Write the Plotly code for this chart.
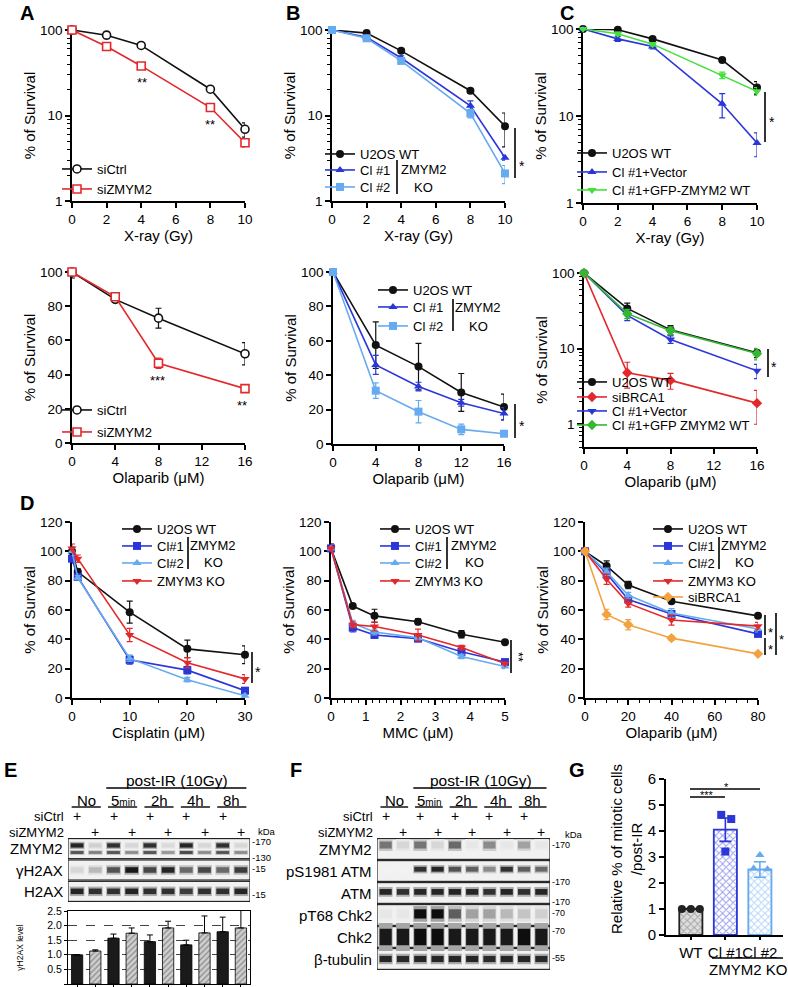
import math
import plotly.graph_objects as go

W, H = 788, 987
FONT = "Liberation Sans, Arial, Helvetica, sans-serif"
BLACK = "#111111"
RED = "#e3282c"
BLUE = "#2b36d9"
LBLUE = "#66aaf0"
GREEN = "#44e03c"
GREEN2 = "#34b834"
ORANGE = "#f2a340"

# ------------------------------------------------------------------ DATA
xray_dose = [0, 2, 4, 8, 10]
A_siCtrl = [100, 87, 66, 20.3, 6.9]
A_siCtrl_err = [0, 8, 3, 1.2, 1.3]
A_siZMYM2 = [100, 64, 38, 12.4, 4.8]
A_siZMYM2_err = [0, 3, 2, 1, 0.5]

B_WT = [100, 92, 57, 19.5, 7.5]
B_WT_err = [0, 4, 3, 1.2, 3.2]
B_Cl1 = [100, 82, 47, 13, 3.2]
B_Cl1_err = [0, 3, 3, 1.8, 0.2]
B_Cl2 = [100, 80, 43.5, 10.6, 2.1]
B_Cl2_err = [0, 3, 2, 1.2, 0.5]

C_WT = [100, 98, 77, 44, 21.3]
C_WT_err = [0, 3, 3, 2.5, 3.5]
C_Vec = [100, 77, 63, 13.8, 4.9]
C_Vec_err = [0, 5, 4, 4.3, 1.5]
C_GFP = [100, 88, 67, 29.4, 19.2]
C_GFP_err = [0, 4, 3, 2.5, 2]

ola_dose = [0, 4, 8, 16]
ola_dose5 = [0, 4, 8, 12, 16]
A2_siCtrl = [100, 84, 73, 52.2]
A2_siCtrl_err = [3.5, 1.5, 5.8, 6.5]
A2_siZMYM2 = [100, 85.5, 46.6, 31.8]
A2_siZMYM2_err = [1, 1.5, 3, 1.5]

B2_WT = [100, 57.5, 45, 30, 21.5]
B2_WT_err = [1, 13.5, 13.5, 11, 7.5]
B2_Cl1 = [100, 46, 33.4, 24, 17.7]
B2_Cl1_err = [1, 5.5, 2.5, 2, 3.5]
B2_Cl2 = [100, 31, 18.8, 8.5, 6]
B2_Cl2_err = [1, 4.5, 6.5, 3, 1]

C2_WT = [100, 34, 17.7, 8.8]
C2_WT_err = [5, 6, 2.5, 1.2]
C2_siBRCA1 = [100, 4.8, 3.8, 1.9]
C2_siBRCA1_err = [5, 1.8, 0.9, 0.9]
C2_Vec = [100, 27.5, 13.2, 5.1]
C2_Vec_err = [5, 4, 1.5, 1.1]
C2_GFP = [100, 29, 17.3, 8.6]
C2_GFP_err = [5, 4, 2, 1.5]

cis_dose = [0, 1, 10, 20, 30]
D1_WT = [100, 86, 58.5, 33.5, 29.5]
D1_WT_err = [3, 2, 7.5, 6, 6]
D1_Cl1 = [95, 82.5, 26, 19, 5]
D1_Cl1_err = [3, 1.5, 3, 2.5, 1.5]
D1_Cl2 = [100, 82, 27, 12.5, 1.5]
D1_Cl2_err = [3, 1.5, 2, 1.5, 1]
D1_ZMYM3 = [102, 95, 43, 24, 13]
D1_ZMYM3_err = [3, 2.5, 4.5, 3.5, 3]

mmc_dose = [0, 0.625, 1.25, 2.5, 3.75, 5]
D2_WT = [102, 62.7, 56, 52, 43.5, 38]
D2_WT_err = [3, 1, 4.5, 2, 2.5, 1]
D2_Cl1 = [102, 48, 43, 40.5, 31.5, 24.5]
D2_Cl1_err = [3, 3, 2, 2, 2, 1.5]
D2_Cl2 = [102, 51, 45, 41, 28.3, 21.5]
D2_Cl2_err = [3, 2, 2, 1.5, 1.5, 1.5]
D2_ZMYM3 = [102, 50, 48.7, 43, 34.4, 23.5]
D2_ZMYM3_err = [3, 2, 3, 4, 1.5, 1]

ola80_dose = [0, 10, 20, 40, 80]
D3_WT = [100, 90, 77, 66, 56]
D3_WT_err = [2, 3.5, 2.5, 1, 1]
D3_Cl1 = [100, 84.9, 67.2, 57.3, 43.7]
D3_Cl1_err = [2, 2.5, 2, 2, 1.5]
D3_Cl2 = [100, 86, 70, 58, 47]
D3_Cl2_err = [2, 2.5, 2, 3, 2]
D3_ZMYM3 = [100, 81, 64.5, 53.2, 49]
D3_ZMYM3_err = [2, 3.5, 2.5, 3.5, 2.5]
D3_siBRCA1 = [100, 57, 50, 40.8, 30.1]
D3_siBRCA1_err = [2, 3.5, 3.5, 1.5, 1]

# western blot band intensities (0 = none, 1 = saturated), lanes 1..10
LANES = list(range(1, 11))
E_rows = ["ZMYM2", "γH2AX", "H2AX"]
E_ZMYM2_upper = [0.9, 0.15, 0.85, 0.12, 0.85, 0.1, 0.9, 0.12, 0.85, 0.12]
E_ZMYM2_lower = [0.7, 0.5, 0.7, 0.45, 0.7, 0.4, 0.75, 0.45, 0.7, 0.45]
E_gH2AX = [0.12, 0.25, 0.7, 0.95, 0.75, 0.9, 0.6, 0.75, 0.6, 0.8]
E_H2AX = [0.9, 0.85, 0.85, 0.9, 0.85, 0.85, 0.8, 0.85, 0.85, 0.9]
E_level = [1.0, 1.13, 1.57, 1.74, 1.45, 1.92, 1.34, 1.75, 1.79, 1.92]
E_level_err = [0.0, 0.04, 0.14, 0.18, 0.23, 0.23, 0.16, 0.58, 0.5, 0.83]

F_rows = ["ZMYM2", "pS1981 ATM", "ATM", "pT68 Chk2", "Chk2", "β-tubulin"]
F_ZMYM2 = [0.55, 0.12, 0.55, 0.12, 0.6, 0.05, 0.45, 0.05, 0.35, 0.05]
F_pATM = [0.0, 0.0, 0.85, 0.9, 0.7, 0.65, 0.45, 0.85, 0.65, 0.6]
F_ATM = [0.9, 0.85, 0.9, 0.9, 0.9, 0.9, 0.85, 0.9, 0.85, 0.9]
F_pChk2 = [0.05, 0.05, 1.0, 1.0, 0.65, 0.35, 0.35, 0.25, 0.2, 0.15]
F_Chk2 = [0.95, 0.95, 1.0, 1.0, 0.95, 0.95, 0.95, 0.95, 1.0, 0.95]
F_tub = [0.9, 0.88, 0.9, 0.9, 0.9, 0.9, 0.88, 0.9, 0.9, 0.88]

time_groups = ["No", "5<span style='font-size:10px'>min</span>", "2h", "4h", "8h"]
siCtrl_flags = [1, 0, 1, 0, 1, 0, 1, 0, 1, 0]
siZMYM2_flags = [0, 1, 0, 1, 0, 1, 0, 1, 0, 1]

G_cats = ["WT", "Cl #1", "Cl #2"]
G_mean = [1.0, 4.05, 2.52]
G_err = [0.02, 0.45, 0.3]
G_pts = [[1.0, 1.0, 1.0], [4.62, 4.46, 3.21], [3.08, 2.56, 2.53]]

# ------------------------------------------------------------------ HELPERS
fig = go.Figure()
L = dict(width=W, height=H, margin=dict(l=0, r=0, t=0, b=0),
         paper_bgcolor="white", plot_bgcolor="white",
         font=dict(family=FONT, color="black", size=13),
         barmode="overlay", showlegend=True)
shapes, annos = [], []


def sfx(n):
    return "" if n == 1 else str(n)


def fx(p):
    return p / W


def fy(p):
    return 1 - p / H


AXBASE = dict(showline=True, linecolor="black", linewidth=1.6, ticks="outside",
              ticklen=5, tickwidth=1.6, tickcolor="black", showgrid=False,
              zeroline=False, automargin=False, layer="below traces",
              tickfont=dict(size=13.5, family=FONT, color="black"))
LOGMINOR = [2, 3, 4, 5, 6, 7, 8, 9, 20, 30, 40, 50, 60, 70, 80, 90]


def axes(n, xpx, ypx, xrange, yrange, xticks, yticks, xtitle=None, ytitle=None,
         ylog=False, yticktext=None, xminor=None, yminor=None):
    xa = dict(AXBASE, domain=[fx(xpx[0]), fx(xpx[1])], range=xrange,
              anchor="y" + sfx(n), tickmode="array", tickvals=xticks)
    ya = dict(AXBASE, domain=[fy(ypx[1]), fy(ypx[0])], range=yrange,
              anchor="x" + sfx(n), tickmode="array", tickvals=yticks,
              type="log" if ylog else "linear")
    if yticktext:
        ya["ticktext"] = yticktext
    if xtitle:
        xa["title"] = dict(text=xtitle, font=dict(size=15), standoff=4)
    if ytitle:
        ya["title"] = dict(text=ytitle, font=dict(size=15), standoff=1)
    if xminor:
        xa["minor"] = dict(ticks="outside", ticklen=3, tickwidth=1.2,
                           tickcolor="black", dtick=xminor, tick0=0)
    if yminor:
        ya["minor"] = dict(ticks="outside", ticklen=3, tickwidth=1.2,
                           tickcolor="black", tickmode="array", tickvals=yminor)
    L["xaxis" + sfx(n)] = xa
    L["yaxis" + sfx(n)] = ya


leg_count = [0]


def new_legend(text_left, cy, size=13):
    leg_count[0] += 1
    k = leg_count[0]
    key = "legend" if k == 1 else "legend%d" % k
    L[key] = dict(x=fx(text_left - 40), y=fy(cy), xanchor="left", yanchor="middle",
                  bgcolor="rgba(0,0,0,0)", borderwidth=0, tracegroupgap=0,
                  itemwidth=30, font=dict(size=size, family=FONT, color="black"))
    return key


def series(n, x, y, err, color, symbol, name, leg, hollow=False, size=8):
    s = sfx(n)
    key = new_legend(*leg)
    fig.add_trace(go.Scatter(
        x=x, y=y, name=name, mode="lines+markers",
        line=dict(color=color, width=1.6),
        marker=dict(symbol=symbol, size=size, color="white" if hollow else color,
                    line=dict(color=color, width=1.6 if hollow else 0)),
        error_y=dict(type="data", array=err, visible=True, color=color,
                     thickness=1.2, width=3),
        xaxis="x" + s, yaxis="y" + s, legend=key, cliponaxis=False,
        hoverinfo="skip"))


def text(t, x, y, size=14, **kw):
    d = dict(text=t, x=fx(x), y=fy(y), xref="paper", yref="paper",
             xanchor="center", yanchor="middle",
             showarrow=False, font=dict(size=size, family=FONT, color="black"))
    d.update(kw)
    annos.append(d)


def vline(x, y0, y1, w=1.6):
    shapes.append(dict(type="line", xref="paper", yref="paper", x0=fx(x), x1=fx(x),
                       y0=fy(y0), y1=fy(y1), line=dict(color="black", width=w)))


def hline(x0, x1, y, w=1.6):
    shapes.append(dict(type="line", xref="paper", yref="paper", x0=fx(x0), x1=fx(x1),
                       y0=fy(y), y1=fy(y), line=dict(color="black", width=w)))


def ko_bracket(x, y0, y1, cx, yz, yk):
    vline(x, y0, y1)
    text("ZMYM2", cx, yz, 13)
    text("KO", cx, yk, 13)


# ------------------------------------------------------------------ ROW 1 (X-ray, log)
surv = "% of Survival"
xr_t = "X-ray (Gy)"
ol_t = "Olaparib (μM)"
axes(1, (72, 245), (30, 201), [0, 10], [0, 2], [0, 2, 4, 6, 8, 10], [1, 10, 100],
     xr_t, surv, ylog=True, yticktext=["1", "10", "100"], yminor=LOGMINOR)
series(1, xray_dose, A_siCtrl, A_siCtrl_err, BLACK, "circle", "siCtrl", (97, 169), hollow=True)
series(1, xray_dose, A_siZMYM2, A_siZMYM2_err, RED, "square", "siZMYM2", (97, 189), hollow=True)
text("**", 142, 82, 13)
text("**", 210, 124, 13)

axes(2, (332, 505), (30, 201), [0, 10], [0, 2], [0, 2, 4, 6, 8, 10], [1, 10, 100],
     xr_t, surv, ylog=True, yticktext=["1", "10", "100"], yminor=LOGMINOR)
series(2, xray_dose, B_WT, B_WT_err, BLACK, "circle", "U2OS WT", (360, 154))
series(2, xray_dose, B_Cl1, B_Cl1_err, BLUE, "triangle-up", "Cl #1", (360, 170))
series(2, xray_dose, B_Cl2, B_Cl2_err, LBLUE, "square", "Cl #2", (360, 187))
ko_bracket(397, 160, 194, 424, 170, 187)
vline(515, 128, 178)
text("*", 522, 166, 14)

axes(3, (583, 757), (29, 203), [0, 10], [0, 2], [0, 2, 4, 6, 8, 10], [1, 10, 100],
     xr_t, surv, ylog=True, yticktext=["1", "10", "100"], yminor=LOGMINOR)
series(3, xray_dose, C_WT, C_WT_err, BLACK, "circle", "U2OS WT", (612, 153))
series(3, xray_dose, C_Vec, C_Vec_err, BLUE, "triangle-up", "Cl #1+Vector", (612, 172))
series(3, xray_dose, C_GFP, C_GFP_err, GREEN, "triangle-down", "Cl #1+GFP-ZMYM2 WT", (612, 190))
vline(765, 92, 142)
text("*", 772, 122, 14)

# ------------------------------------------------------------------ ROW 2 (Olaparib)
axes(4, (72, 245), (272, 443), [0, 16], [0, 100], [0, 4, 8, 12, 16],
     [0, 20, 40, 60, 80, 100], ol_t, surv)
series(4, ola_dose, A2_siCtrl, A2_siCtrl_err, BLACK, "circle", "siCtrl", (97, 410), hollow=True)
series(4, ola_dose, A2_siZMYM2, A2_siZMYM2_err, RED, "square", "siZMYM2", (97, 432), hollow=True)
text("***", 157, 380, 13)
text("**", 242, 405, 13)

axes(5, (333, 504), (272, 444), [0, 16], [0, 100], [0, 4, 8, 12, 16],
     [0, 20, 40, 60, 80, 100], ol_t, surv)
series(5, ola_dose5, B2_WT, B2_WT_err, BLACK, "circle", "U2OS WT", (413, 290))
series(5, ola_dose5, B2_Cl1, B2_Cl1_err, BLUE, "triangle-up", "Cl #1", (413, 307))
series(5, ola_dose5, B2_Cl2, B2_Cl2_err, LBLUE, "square", "Cl #2", (413, 326))
ko_bracket(453, 299, 331, 478, 307, 326)
vline(515, 404, 438)
text("*", 522, 426, 14)

axes(6, (584, 757), (273, 447), [0, 16], [math.log10(0.5), 2], [0, 4, 8, 12, 16],
     [1, 10, 100], ol_t, surv, ylog=True, yticktext=["1", "10", "100"],
     yminor=[0.5, 0.6, 0.7, 0.8, 0.9] + LOGMINOR)
series(6, ola_dose, C2_WT, C2_WT_err, BLACK, "circle", "U2OS WT", (612, 382))
series(6, ola_dose, C2_siBRCA1, C2_siBRCA1_err, RED, "diamond", "siBRCA1", (612, 397))
series(6, ola_dose, C2_Vec, C2_Vec_err, BLUE, "triangle-down", "Cl #1+Vector", (612, 411))
series(6, ola_dose, C2_GFP, C2_GFP_err, GREEN2, "diamond", "Cl #1+GFP ZMYM2 WT", (612, 425))
vline(768, 349, 377)
text("*", 774, 367, 14)

# ------------------------------------------------------------------ ROW D
yt120 = [0, 20, 40, 60, 80, 100, 120]
axes(7, (72, 245), (522, 698), [0, 30], [0, 120], [0, 10, 20, 30], yt120,
     "Cisplatin (μM)", surv, xminor=5)
series(7, cis_dose, D1_WT, D1_WT_err, BLACK, "circle", "U2OS WT", (157, 529))
series(7, cis_dose, D1_Cl1, D1_Cl1_err, BLUE, "square", "Cl#1", (157, 546))
series(7, cis_dose, D1_Cl2, D1_Cl2_err, LBLUE, "triangle-up", "Cl#2", (157, 563))
series(7, cis_dose, D1_ZMYM3, D1_ZMYM3_err, RED, "triangle-down", "ZMYM3 KO", (157, 581))
ko_bracket(188, 537, 569, 213, 545, 562)
vline(252, 652, 683)
text("*", 258, 672, 14)

axes(8, (331, 505), (522, 698), [0, 5], [0, 120], [0, 1, 2, 3, 4, 5], yt120,
     "MMC (μM)", surv, xminor=0.2)
series(8, mmc_dose, D2_WT, D2_WT_err, BLACK, "circle", "U2OS WT", (415, 529))
series(8, mmc_dose, D2_Cl1, D2_Cl1_err, BLUE, "square", "Cl#1", (415, 546))
series(8, mmc_dose, D2_Cl2, D2_Cl2_err, LBLUE, "triangle-up", "Cl#2", (415, 563))
series(8, mmc_dose, D2_ZMYM3, D2_ZMYM3_err, RED, "triangle-down", "ZMYM3 KO", (415, 581))
ko_bracket(447, 537, 569, 474, 545, 562)
vline(511, 640, 673)
text("**", 519, 657, 13, textangle=90)

axes(9, (585, 758), (522, 698), [0, 80], [0, 120], [0, 20, 40, 60, 80], yt120,
     ol_t, surv, xminor=5)
series(9, ola80_dose, D3_WT, D3_WT_err, BLACK, "circle", "U2OS WT", (688, 529))
series(9, ola80_dose, D3_Cl1, D3_Cl1_err, BLUE, "square", "Cl#1", (688, 546))
series(9, ola80_dose, D3_Cl2, D3_Cl2_err, LBLUE, "triangle-up", "Cl#2", (688, 563))
series(9, ola80_dose, D3_ZMYM3, D3_ZMYM3_err, RED, "triangle-down", "ZMYM3 KO", (688, 581))
series(9, ola80_dose, D3_siBRCA1, D3_siBRCA1_err, ORANGE, "diamond", "siBRCA1", (688, 597))
ko_bracket(719, 537, 569, 744, 545, 562)
vline(765, 615, 635)
vline(765, 638, 655)
vline(776, 613, 655)
text("*", 770, 632, 13)
text("*", 770, 649, 13)
text("*", 781, 639, 13)

# ------------------------------------------------------------------ BLOTS


def gray(v):
    g = int(round(242 - 228 * v))
    return "rgb(%d,%d,%d)" % (g, g, g)


def band(n, row, values, ctr, thk, width=0.7):
    s = sfx(n)
    halo = [v * 0.35 for v in values]
    for vals, t, w in ((halo, thk * 1.7, width + 0.1), (values, thk, width)):
        fig.add_trace(go.Bar(
            x=LANES, y=[t] * len(vals), base=[row + ctr - t / 2] * len(vals),
            width=w, marker=dict(color=[gray(v) for v in vals], line=dict(width=0)),
            xaxis="x" + s, yaxis="y" + s, showlegend=False, hoverinfo="skip"))


def blot_axes(n, xpx, ypx, nrows, labels, label_right):
    s = sfx(n)
    L["xaxis" + s] = dict(domain=[fx(xpx[0]), fx(xpx[1])], range=[0.5, 10.5],
                          anchor="y" + s, visible=False, automargin=False)
    L["yaxis" + s] = dict(domain=[fy(ypx[1]), fy(ypx[0])], range=[nrows, 0],
                          anchor="x" + s, visible=False, automargin=False)
    for i, lab in enumerate(labels):
        shapes.append(dict(type="rect", xref="x" + s, yref="y" + s, x0=0.5, x1=10.5,
                           y0=i + 0.03, y1=i + 0.97, layer="below",
                           line=dict(color="black", width=1), fillcolor="#f1f1f1"))
        annos.append(dict(text=lab, xref="paper", yref="y" + s, x=fx(label_right),
                          y=i + 0.5, xanchor="right", yanchor="middle", showarrow=False,
                          font=dict(size=15, family=FONT, color="black")))


def blot_header(n, label_right, y_post, y_line, y_grp, y_ul, y_c, y_z):
    s = sfx(n)
    xr = "x" + s
    annos.append(dict(text="post-IR (10Gy)", xref=xr, yref="paper", x=6.5, y=fy(y_post),
                      xanchor="center", yanchor="middle",
                      showarrow=False, font=dict(size=15.5, family=FONT, color="black")))
    shapes.append(dict(type="line", xref=xr, yref="paper", x0=2.6, x1=10.3,
                       y0=fy(y_line), y1=fy(y_line), line=dict(color="black", width=1.6)))
    for k, g in enumerate(time_groups):
        c = 2 * k + 1.5
        annos.append(dict(text=g, xref=xr, yref="paper", x=c, y=fy(y_grp),
                          xanchor="center", yanchor="middle",
                          showarrow=False, font=dict(size=15, family=FONT, color="black")))
        shapes.append(dict(type="line", xref=xr, yref="paper", x0=c - 0.8, x1=c + 0.8,
                           y0=fy(y_ul), y1=fy(y_ul), line=dict(color="black", width=1.4)))
    text("siCtrl", label_right, y_c, 13, xanchor="right")
    text("siZMYM2", label_right, y_z, 13, xanchor="right")
    for lane, fc, fz in zip(LANES, siCtrl_flags, siZMYM2_flags):
        for flag, yy in ((fc, y_c), (fz, y_z)):
            if flag:
                annos.append(dict(text="+", xref=xr, yref="paper", x=lane, y=fy(yy),
                                  xanchor="center", yanchor="middle", showarrow=False,
                                  font=dict(size=14, family=FONT, color="black")))


# E blot
blot_axes(10, (68, 250), (838, 902), 3, E_rows, 65)
blot_header(10, 66, 780, 788, 800, 807, 816, 832)
band(10, 0, E_ZMYM2_upper, 0.35, 0.2)
band(10, 0, E_ZMYM2_lower, 0.68, 0.13)
band(10, 1, E_gH2AX, 0.5, 0.26)
band(10, 2, E_H2AX, 0.5, 0.26)
text("kDa", 256, 831, 9.5, xanchor="left")
for t, yy in (("-170", 841), ("-130", 857), ("-15", 868), ("-15", 894)):
    text(t, 250, yy, 9.5, xanchor="left")

# E bar chart
L["xaxis11"] = dict(AXBASE, domain=[fx(68), fx(250)], range=[0.5, 10.5], anchor="y11",
                    tickmode="array", tickvals=LANES, showticklabels=False, ticklen=4,
                    linewidth=1, tickwidth=1, mirror=True)
L["yaxis11"] = dict(AXBASE, domain=[fy(984), fy(911)], range=[0, 2.5], anchor="x11",
                    tickmode="array", tickvals=[0, 0.5, 1, 1.5, 2, 2.5],
                    ticktext=["0", "0.5", "1.0", "1.5", "2.0", "2.5"], ticklen=3,
                    linewidth=1, tickwidth=1, mirror=True, showgrid=True,
                    gridcolor="#444", griddash="dash", gridwidth=0.7,
                    tickfont=dict(size=10.5, family=FONT, color="black"),
                    title=dict(text="γH2AX level", font=dict(size=8.5), standoff=22))
fig.add_trace(go.Bar(
    x=LANES, y=E_level, width=0.62,
    marker=dict(color=["#1a1a1a" if f else "#cfcfcf" for f in siCtrl_flags],
                line=dict(color="black", width=0.8),
                pattern=dict(shape=["" if f else "/" for f in siCtrl_flags],
                             fgcolor="#8a8a8a", bgcolor="#d6d6d6", size=4, solidity=0.3)),
    error_y=dict(type="data", array=E_level_err, arrayminus=[0] * 10, symmetric=False,
                 color="black", thickness=1, width=3),
    xaxis="x11", yaxis="y11", showlegend=False, hoverinfo="skip"))

# F blot
blot_axes(12, (377, 550), (838, 970), 6, F_rows, 374)
blot_header(12, 375, 780, 788, 800, 807, 816, 832)
band(12, 0, F_ZMYM2, 0.32, 0.32)
band(12, 1, F_pATM, 0.42, 0.22)
band(12, 2, F_ATM, 0.45, 0.26)
band(12, 3, F_pChk2, 0.45, 0.42)
band(12, 4, F_Chk2, 0.5, 0.75)
band(12, 5, F_tub, 0.5, 0.28)
text("kDa", 563, 834, 9.5, xanchor="left")
for t, yy in (("-170", 845), ("-170", 882), ("-170", 902), ("-70", 913),
              ("-70", 931), ("-55", 958)):
    text(t, 550, yy, 9, xanchor="left")

# ------------------------------------------------------------------ G
L["xaxis13"] = dict(AXBASE, domain=[fx(666), fx(783)], range=[-0.72, 2.67], anchor="y13",
                    tickmode="array", tickvals=[0, 1, 2], ticktext=G_cats, ticklen=3,
                    tickangle=0, tickfont=dict(size=15, family=FONT, color="black"))
L["yaxis13"] = dict(AXBASE, domain=[fy(935), fy(779)], range=[0, 6], anchor="x13",
                    tickmode="array", tickvals=[0, 1, 2, 3, 4, 5, 6],
                    tickfont=dict(size=15, family=FONT, color="black"))
G_colors = ["#222222", BLUE, LBLUE]
G_fg = ["#6a6a6a", BLUE, LBLUE]
G_bg = ["#dedede", "white", "white"]
G_sym = ["circle", "square", "triangle-up"]
G_jit = [[-0.26, 0.0, 0.26], [-0.12, 0.17, 0.0], [0.0, -0.18, 0.22]]
for i in range(3):
    fig.add_trace(go.Bar(
        x=[i], y=[G_mean[i]], width=0.67,
        marker=dict(color=G_bg[i], line=dict(color=G_colors[i], width=1.8),
                    pattern=dict(shape="x", fgcolor=G_fg[i], bgcolor=G_bg[i],
                                 size=5, solidity=0.35)),
        error_y=dict(type="data", array=[G_err[i]], color=G_colors[i], thickness=1.6, width=6),
        xaxis="x13", yaxis="y13", showlegend=False, hoverinfo="skip"))
for i in range(3):
    fig.add_trace(go.Scatter(
        x=[i + j for j in G_jit[i]], y=G_pts[i], mode="markers",
        marker=dict(symbol=G_sym[i], size=8, color=G_colors[i]),
        xaxis="x13", yaxis="y13", showlegend=False, cliponaxis=False, hoverinfo="skip"))
hline(690, 725, 797, 1.4)
hline(690, 760, 789, 1.4)
text("***", 707, 795, 11)
text("*", 726, 787, 11)
hline(712, 783, 958, 1.4)
text("ZMYM2 KO", 748, 969, 15)
text("Relative % of mitotic cells<br>/post-IR", 626, 849, 15, textangle=-90)

# ------------------------------------------------------------------ PANEL LETTERS
for lab, x, y in (("A", 27, 13), ("B", 293, 13), ("C", 567, 13), ("D", 27, 503),
                  ("E", 10, 770), ("F", 296, 770), ("G", 577, 770)):
    text("<b>%s</b>" % lab, x, y, 20)

L["shapes"] = shapes
L["annotations"] = annos
fig.update_layout(**L)
fig.write_html("out.html", config={"displayModeBar": False},
               post_script="document.body.style.margin='0';")
